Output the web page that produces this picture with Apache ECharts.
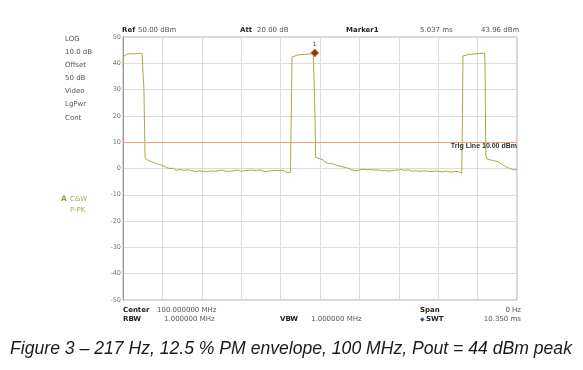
<!DOCTYPE html>
<html>
<head>
<meta charset="utf-8">
<script src="https://cdn.jsdelivr.net/npm/echarts@6/dist/echarts.min.js"></script>
<style>
html,body{margin:0;padding:0;background:#fff;}
#c{width:583px;height:370px;}
</style>
</head>
<body>
<div id="c"></div>
<script>
// ---- data: [time ms, level dBm] ----
var pulse1 = [[0,38.8],[0.02,42.8],[0.04,43.5],[0.1,43.4],[0.2,43.6],[0.3,43.6],[0.4,43.7],[0.5,43.8],[0.53,43.9],
  [0.55,30],[0.58,4.2],[0.62,3.4],[0.66,3.1],[0.71,2.8],[0.76,2.7],[0.8,2.3],[0.84,2.2],[0.88,1.9],[0.93,1.6],[0.97,1.4],
  [1.01,1.0],[1.05,1.1],[1.1,0.6],[1.14,0.4],[1.18,0.5],[1.23,0.0],[1.27,-0.2],[1.32,0.1],[1.37,-0.4]];
var gap1 = [[1.40,-0.7],[1.45,-1.2],[1.50,-0.4],[1.55,-0.9],[1.60,-0.7],[1.65,-1.0],
  [1.70,-0.5],[1.75,-1.1],[1.80,-0.8],[1.85,-0.6],[1.90,-1.2],[1.95,-0.7],[2.00,-0.9],[2.05,-0.4],[2.10,-1.0],[2.15,-0.8],
  [2.20,-1.3],[2.25,-0.6],[2.30,-0.9],[2.35,-0.7],[2.40,-1.1],[2.45,-0.5],[2.50,-0.9],[2.55,-1.2],[2.60,-0.6],[2.65,-0.8],
  [2.70,-1.0],[2.75,-0.5],[2.80,-1.1],[2.85,-0.7],[2.90,-0.9],[2.95,-1.3],[3.00,-0.6],[3.05,-0.8],[3.10,-1.0],[3.15,-0.5],
  [3.20,-0.9],[3.25,-1.2],[3.30,-0.7],[3.35,-0.9],[3.40,-0.6],[3.45,-1.1],[3.50,-0.8],[3.55,-1.0],[3.60,-0.5],[3.65,-0.9],
  [3.70,-1.2],[3.75,-0.7],[3.80,-1.0],[3.85,-0.6],[3.90,-0.9],[3.95,-1.1],[4.00,-0.7],[4.05,-1.0],[4.10,-0.8],[4.15,-1.3],
  [4.20,-0.7],[4.25,-1.0],[4.30,-1.4],[4.35,-0.9],[4.40,-1.5],[4.42,-1.2]];
var pulse2 = [[4.43,30],[4.44,42.4],[4.48,43.0],[4.6,43.2],[4.8,43.4],[5.0,43.7],[5.02,44.0],[5.04,43.9],
  [5.045,20],[5.06,4.2],[5.1,3.5],[5.15,3.8],[5.2,3.1],[5.25,3.3],[5.3,2.5],[5.35,2.7],[5.4,1.9],[5.45,1.5],[5.5,1.8],
  [5.55,1.1],[5.6,1.3],[5.65,0.7],[5.7,0.9],[5.75,0.3],[5.8,0.5],[5.85,-0.1],[5.9,0.2],[5.95,-0.4]];
var gap2 = [[6.00,-0.5],[6.05,-0.2],[6.10,-0.8],[6.15,-0.4],[6.20,-0.6],[6.25,-1.0],[6.30,-0.3],[6.35,-0.7],[6.40,-0.5],[6.45,-0.9],
  [6.50,-0.4],[6.55,-0.8],[6.60,-0.6],[6.65,-1.1],[6.70,-0.5],[6.75,-0.7],[6.80,-0.9],[6.85,-0.4],[6.90,-0.8],[6.95,-0.6],
  [7.00,-1.0],[7.05,-0.5],[7.10,-0.7],[7.15,-1.2],[7.20,-0.6],[7.25,-0.8],[7.30,-0.4],[7.35,-0.9],[7.40,-0.7],[7.45,-1.1],
  [7.50,-0.5],[7.55,-0.8],[7.60,-1.0],[7.65,-0.6],[7.70,-0.9],[7.75,-0.4],[7.80,-1.1],[7.85,-0.7],[7.90,-0.9],[7.95,-0.5],
  [8.00,-1.0],[8.05,-0.8],[8.10,-1.2],[8.15,-0.6],[8.20,-0.9],[8.25,-0.7],[8.30,-1.1],[8.35,-0.8],[8.40,-1.3],[8.45,-0.7],
  [8.50,-1.0],[8.55,-0.8],[8.60,-1.4],[8.65,-0.9],[8.70,-1.2],[8.75,-1.5],[8.80,-1.1],[8.85,-1.6],[8.90,-1.8],[8.91,-1.7]];
var pulse3 = [[8.92,25],[8.93,42.8],[8.97,43.2],[9.1,43.4],[9.3,43.6],[9.5,43.9],[9.51,40],[9.53,5],
  [9.56,3.6],[9.6,3.0],[9.65,3.3],[9.7,2.7],[9.75,2.9],[9.8,2.4],[9.85,2.6],[9.9,2.0],[9.95,1.6],[10.0,1.2],
  [10.05,0.8],[10.1,0.5],[10.15,0.1],[10.2,-0.2],[10.25,-0.5],[10.3,-0.2],[10.35,-0.4]];
var marker1 = [5.037, 43.96];
var trigLevel = 10;
var yTicks = [50,40,30,20,10,0,-10,-20,-30,-40,-50];
var sweepMs = 10.35;

var trace = pulse1.concat(gap1, pulse2, gap2, pulse3);

var chart = echarts.init(document.getElementById('c'), null, {renderer:'canvas'});
var small = {fontFamily:'DejaVu Sans', fontSize:7, fill:'#555'};
function txt(x, y, s, o){
  var st = Object.assign({}, small, {text:s, textVerticalAlign:'middle'}, o||{});
  return {type:'text', x:x, y:y, style:st, silent:true};
}
var bold = {fontWeight:'bold', fill:'#222'};
chart.setOption({
  animation:false,
  backgroundColor:'#fff',
  grid:{left:123, right:66, top:37, bottom:70, show:true, borderColor:'#aaa', borderWidth:1},
  xAxis:{type:'value', min:0, max:sweepMs, interval:sweepMs/10,
    axisLine:{show:false}, axisTick:{show:false}, axisLabel:{show:false},
    splitLine:{show:true, lineStyle:{color:'#dcdcdc', width:1}}},
  yAxis:{type:'value', min:yTicks[yTicks.length-1], max:yTicks[0], interval:10,
    axisLine:{show:true, lineStyle:{color:'#999'}}, axisTick:{show:false},
    axisLabel:{show:true, fontSize:6.5, color:'#777', fontFamily:'DejaVu Sans', margin:2},
    splitLine:{show:true, lineStyle:{color:'#dcdcdc', width:1}}},
  series:[{
    type:'line', data:trace, showSymbol:false, symbol:'none',
    lineStyle:{color:'#b0a54a', width:1}, silent:true,
    markLine:{silent:true, symbol:'none', animation:false,
      lineStyle:{color:'#f0a070', width:1, type:'solid'},
      label:{show:true, position:'insideEndBottom', distance:[0,0], formatter:'{b|Trig Line ' + trigLevel.toFixed(2) + ' dBm}',
        rich:{b:{fontWeight:'bold', fontSize:7, color:'#333', fontFamily:'Liberation Sans'}}},
      data:[{yAxis:trigLevel}]},
    markPoint:{silent:true, animation:false, symbol:'diamond', symbolSize:8,
      itemStyle:{color:'#8a3a12', borderColor:'#e07a3a', borderWidth:1},
      label:{show:true, position:'top', distance:1, formatter:'1', fontSize:6, color:'#333', fontFamily:'DejaVu Sans'},
      data:[{coord:marker1}]}
  }],
  graphic:[
    txt(65,39,'LOG'), txt(65,52,'10.0 dB'), txt(65,65,'Offset'), txt(65,78,'50 dB'),
    txt(65,91.5,'Video'), txt(65,104.5,'LgPwr'), txt(65,118,'Cont'),
    txt(61,199.5,'A',{fontWeight:'bold', fill:'#9a9a30', fontSize:7.5}),
    txt(70,199.5,'C&W',{fill:'#a8a860'}), txt(70,210.5,'P-PK',{fill:'#a8a860'}),
    txt(122,30.5,'Ref',bold), txt(138,30.5,'50.00 dBm'),
    txt(240,30.5,'Att',bold), txt(257,30.5,'20.00 dB'),
    txt(346,30.5,'Marker1',bold), txt(420,30.5,'5.037 ms'), txt(481,30.5,'43.96 dBm'),
    txt(123,310.5,'Center',bold), txt(157,310.5,'100.000000 MHz'),
    txt(123,319.5,'RBW',bold), txt(164,319.5,'1.000000 MHz'),
    txt(280,319.5,'VBW',bold), txt(311,319.5,'1.000000 MHz'),
    txt(420,310.5,'Span',bold), txt(521,310.5,'0 Hz',{textAlign:'right'}),
    txt(420,319.5,'\u25C6',{fill:'#2a5a9a', fontSize:6}), txt(426,319.5,'SWT',bold),
    txt(521,319.5,'10.350 ms',{textAlign:'right'}),
    txt(291,349,'Figure 3 \u2013 217 Hz, 12.5 % PM envelope, 100 MHz, Pout = 44 dBm peak',
      {fontFamily:'Liberation Sans', fontStyle:'italic', fontSize:17.6, fill:'#1a1a1a', textAlign:'center'})
  ]
});
</script>
</body>
</html>
